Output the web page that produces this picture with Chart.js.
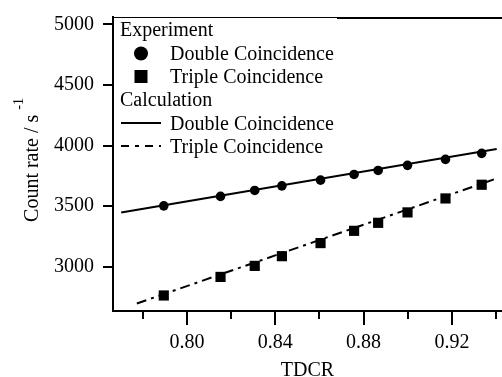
<!DOCTYPE html>
<html>
<head>
<meta charset="utf-8">
<script src="https://cdn.jsdelivr.net/npm/chart.js@4.4.0/dist/chart.umd.min.js"></script>
<style>
  html, body { margin: 0; padding: 0; background: #fff; }
</style>
</head>
<body>
<canvas id="myChart" width="502" height="377"></canvas>
<script>
// measured points (TDCR vs count rate)
const tdcr = [0.7895, 0.8152, 0.8307, 0.8430, 0.8605, 0.8757, 0.8866, 0.8999, 0.9171, 0.9335];
const doubleRate = [3503, 3581, 3630, 3668, 3715, 3762, 3795, 3837, 3886, 3936];
const tripleRate = [2764, 2917, 3008, 3088, 3196, 3297, 3363, 3449, 3564, 3677];

// calculated lines (end points)
const calcDoubleX = [0.7702, 0.9403];
const calcDoubleY = [3449, 3971];
const calcTripleX = [0.7773, 0.9403];
const calcTripleY = [2698, 3729];

const xMajorTicks = [0.80, 0.84, 0.88, 0.92];
const xMinorTicks = [0.78, 0.82, 0.86, 0.90, 0.94];
const yTicks = [3000, 3500, 4000, 4500, 5000];

const groupNames = ["Experiment", "Calculation"];
const seriesNames = ["Double Coincidence", "Triple Coincidence"];
const xTitle = "TDCR";
const yTitle = "Count rate / s";
const yTitleSup = "-1";

const FONT = '"Liberation Serif", "Times New Roman", serif';

const toPts = (xs, ys) => xs.map((x, i) => ({ x: x, y: ys[i] }));

const isMajor = (v) => xMajorTicks.some((m) => Math.abs(m - v) < 1e-6);

const noPad = (s) => {
  s.paddingLeft = 0;
  s.paddingRight = 0;
  s.paddingTop = 0;
  s.paddingBottom = 0;
};

const extras = {
  id: "extras",
  afterDraw(chart) {
    const ctx = chart.ctx;
    const a = chart.chartArea;
    const xs = chart.scales.x;
    ctx.save();
    ctx.strokeStyle = "#000";
    ctx.fillStyle = "#000";

    // x tick marks, long for major, short for minor
    ctx.lineWidth = 2;
    xs.ticks.forEach((t) => {
      const px = Math.round(xs.getPixelForValue(t.value));
      const len = isMajor(t.value) ? 14 : 8;
      ctx.beginPath();
      ctx.moveTo(px, a.bottom);
      ctx.lineTo(px, a.bottom + len);
      ctx.stroke();
    });

    // top frame: thin over legend box, thicker after
    ctx.lineWidth = 1;
    ctx.beginPath();
    ctx.moveTo(a.left, a.top + 0.5);
    ctx.lineTo(337, a.top + 0.5);
    ctx.stroke();
    ctx.lineWidth = 2;
    ctx.beginPath();
    ctx.moveTo(337, a.top + 1);
    ctx.lineTo(a.right, a.top + 1);
    ctx.stroke();

    // legend
    ctx.font = "20px " + FONT;
    ctx.textBaseline = "alphabetic";
    ctx.textAlign = "left";
    const lx = a.left + 7;
    const sx = a.left + 28;
    const tx = a.left + 57;
    const rows = [36, 60, 83, 106, 130, 153];
    ctx.fillText(groupNames[0], lx, rows[0]);
    ctx.fillText(seriesNames[0], tx, rows[1]);
    ctx.fillText(seriesNames[1], tx, rows[2]);
    ctx.fillText(groupNames[1], lx, rows[3]);
    ctx.fillText(seriesNames[0], tx, rows[4]);
    ctx.fillText(seriesNames[1], tx, rows[5]);

    ctx.beginPath();
    ctx.arc(sx, rows[1] - 6.5, 7, 0, Math.PI * 2);
    ctx.fill();
    ctx.fillRect(sx - 6.5, rows[2] - 13, 13, 13);

    ctx.lineWidth = 2;
    ctx.beginPath();
    ctx.moveTo(sx - 20, rows[4] - 7);
    ctx.lineTo(sx + 20, rows[4] - 7);
    ctx.stroke();
    ctx.setLineDash([8, 6, 4, 6]);
    ctx.beginPath();
    ctx.moveTo(sx - 20, rows[5] - 7);
    ctx.lineTo(sx + 20, rows[5] - 7);
    ctx.stroke();
    ctx.setLineDash([]);

    // x title
    ctx.textAlign = "center";
    ctx.fillText(xTitle, (a.left + a.right) / 2, 376);

    // y title with superscript
    ctx.save();
    ctx.translate(38, (a.top + a.bottom) / 2 - 4);
    ctx.rotate(-Math.PI / 2);
    ctx.font = "20px " + FONT;
    const w1 = ctx.measureText(yTitle + " ").width;
    ctx.font = "14px " + FONT;
    const w2 = ctx.measureText(yTitleSup).width;
    const start = -(w1 + w2) / 2;
    ctx.textAlign = "left";
    ctx.font = "20px " + FONT;
    ctx.fillText(yTitle, start, 0);
    ctx.font = "14px " + FONT;
    ctx.fillText(yTitleSup, start + w1, -15);
    ctx.restore();

    ctx.restore();
  },
};

const ctx = document.getElementById("myChart").getContext("2d");
const myChart = new Chart(ctx, {
  type: "scatter",
  data: {
    datasets: [
      {
        label: groupNames[0] + " " + seriesNames[0],
        data: toPts(tdcr, doubleRate),
        pointStyle: "circle",
        pointRadius: 4.8,
        backgroundColor: "#000",
        borderColor: "#000",
        borderWidth: 0,
        order: 0,
      },
      {
        label: groupNames[0] + " " + seriesNames[1],
        data: toPts(tdcr, tripleRate),
        pointStyle: "rect",
        pointRadius: 7.2,
        backgroundColor: "#000",
        borderColor: "#000",
        borderWidth: 0,
        order: 0,
      },
      {
        label: groupNames[1] + " " + seriesNames[0],
        data: toPts(calcDoubleX, calcDoubleY),
        showLine: true,
        pointRadius: 0,
        borderColor: "#000",
        borderWidth: 2,
        order: 1,
      },
      {
        label: groupNames[1] + " " + seriesNames[1],
        data: toPts(calcTripleX, calcTripleY),
        showLine: true,
        pointRadius: 0,
        borderColor: "#000",
        borderWidth: 2,
        borderDash: [10, 5, 3, 5],
        order: 1,
      },
    ],
  },
  options: {
    responsive: false,
    animation: false,
    devicePixelRatio: 1,
    layout: { autoPadding: false, padding: { left: 0, right: 0, top: 17, bottom: 0 } },
    plugins: {
      legend: { display: false },
      tooltip: { enabled: false },
    },
    scales: {
      x: {
        type: "linear",
        min: 0.7665,
        max: 0.9427,
        afterFit: (s) => { s.height = 66; noPad(s); },
        afterBuildTicks: (s) => {
          s.ticks = xMinorTicks.concat(xMajorTicks).sort((p, q) => p - q).map((v) => ({ value: v }));
        },
        grid: { display: false, drawTicks: true, tickLength: 14 },
        border: { display: true, color: "#000", width: 2 },
        ticks: {
          padding: 6,
          color: "#000",
          font: { family: FONT, size: 20 },
          maxRotation: 0,
          autoSkip: false,
          callback: (v) => (isMajor(v) ? v.toFixed(2) : ""),
        },
      },
      y: {
        type: "linear",
        min: 2636,
        max: 5060,
        afterFit: (s) => { s.width = 113; noPad(s); },
        afterBuildTicks: (s) => {
          s.ticks = yTicks.map((v) => ({ value: v }));
        },
        grid: { drawOnChartArea: false, drawTicks: true, tickLength: 10, color: "#000", lineWidth: 2 },
        border: { display: true, color: "#000", width: 2 },
        ticks: {
          padding: 9,
          color: "#000",
          font: { family: FONT, size: 20 },
          callback: (v) => String(v),
        },
      },
    },
  },
  plugins: [extras],
});
</script>
</body>
</html>
